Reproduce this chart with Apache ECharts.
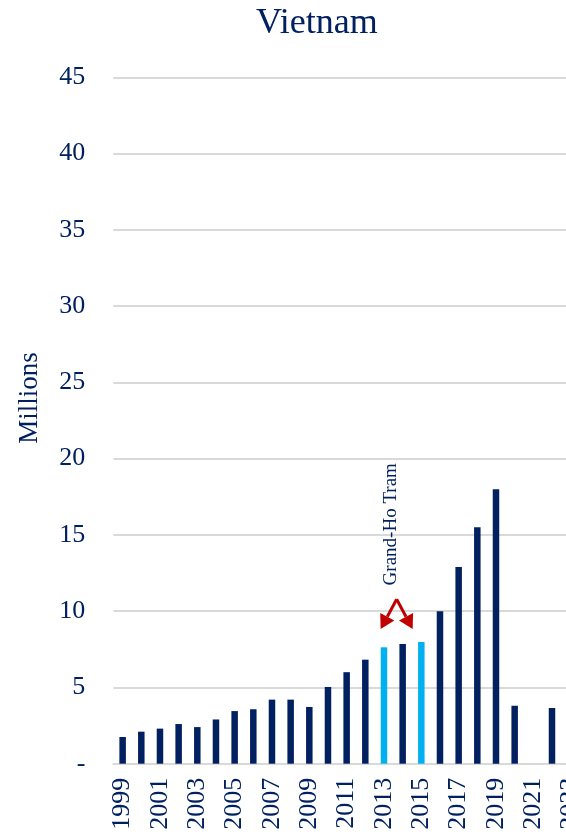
<!DOCTYPE html>
<html>
<head>
<meta charset="utf-8">
<script src="https://cdn.jsdelivr.net/npm/echarts@6/dist/echarts.min.js"></script>
<style>
  html, body { margin: 0; padding: 0; background: #fff; overflow: hidden; }
  #chart { width: 566px; height: 838px; }
</style>
</head>
<body>
<div id="chart"></div>
<script>
// International visitor arrivals, millions
const years = ['1999','2000','2001','2002','2003','2004','2005','2006','2007','2008','2009','2010',
               '2011','2012','2013','2014','2015','2016','2017','2018','2019','2020','2021','2022','2023'];
const arrivals = [1.75, 2.1, 2.3, 2.6, 2.4, 2.9, 3.45, 3.57, 4.2, 4.2, 3.72, 5.03,
                  6.0, 6.82, 7.63, 7.85, 7.98, 10.0, 12.9, 15.5, 18.0, 3.8, null, 3.65, null];
// Years marked around the Grand-Ho Tram opening
const highlightYears = ['2013', '2015'];
const yTicks = { min: 0, max: 45, interval: 5 };
const annotationText = 'Grand-Ho Tram';
const annotationYear = '2014';

const NAVY = '#002060';
const SKY = '#00B0F0';
const RED = '#C00000';
const FONT = 'Liberation Serif';

const chart = echarts.init(document.getElementById('chart'), null, { renderer: 'canvas' });

const barData = arrivals.map((v, i) => ({
  value: v,
  itemStyle: { color: highlightYears.includes(years[i]) ? SKY : NAVY }
}));

chart.setOption({
  animation: false,
  backgroundColor: '#fff',
  title: {
    text: 'Vietnam',
    left: 251,
    top: 1,
    textStyle: { fontFamily: FONT, fontSize: 36, fontWeight: 'normal', color: NAVY }
  },
  // plot area runs past the right edge so the last year is cut off
  grid: {
    left: 113.3, top: 77.3, width: 466.7, height: 686.4,
    containLabel: false,
    outerBoundsMode: 'none'
  },
  xAxis: {
    type: 'category',
    data: years,
    boundaryGap: true,
    axisLine: { show: true, lineStyle: { color: '#D9D9D9', width: 2 } },
    axisTick: { show: false },
    axisLabel: {
      interval: 1,
      rotate: 90,
      margin: 14,
      color: NAVY,
      fontFamily: FONT,
      fontSize: 26
    }
  },
  yAxis: {
    type: 'value',
    min: yTicks.min,
    max: yTicks.max,
    interval: yTicks.interval,
    axisLine: { show: false },
    axisTick: { show: false },
    splitLine: { lineStyle: { color: '#D9D9D9', width: 2 } },
    axisLabel: {
      margin: 28,
      color: NAVY,
      fontFamily: FONT,
      fontSize: 26,
      formatter: v => (v === 0 ? '-' : String(v))
    }
  },
  series: [{
    type: 'bar',
    data: barData,
    barWidth: 6.5
  }]
});

// Side label and the annotation with its two arrows
const ref = chart.convertToPixel({ xAxisIndex: 0, yAxisIndex: 0 }, [annotationYear, 10.78]);
const tipY = chart.convertToPixel({ yAxisIndex: 0 }, 8.83);
const apexX = ref[0] - 6;
const apexY = ref[1];

function arrow(x1, y1, x2, y2) {
  const ang = Math.atan2(y2 - y1, x2 - x1);
  const head = 14, halfW = 8;
  const bx = x2 - head * Math.cos(ang), by = y2 - head * Math.sin(ang);
  const nx = -Math.sin(ang), ny = Math.cos(ang);
  return [
    { type: 'line', shape: { x1, y1, x2: bx, y2: by },
      style: { stroke: RED, lineWidth: 3 } },
    { type: 'polygon',
      shape: { points: [[x2, y2], [bx + nx * halfW, by + ny * halfW], [bx - nx * halfW, by - ny * halfW]] },
      style: { fill: RED } }
  ];
}

const graphics = [
  {
    type: 'text',
    x: 30, y: 398,
    rotation: Math.PI / 2,
    style: { text: 'Millions', fontFamily: FONT, fontSize: 27, fill: NAVY, align: 'center', verticalAlign: 'middle' }
  },
  {
    type: 'text',
    x: apexX - 6, y: apexY - 75,
    rotation: Math.PI / 2,
    style: { text: annotationText, fontFamily: FONT, fontSize: 19, fill: NAVY, align: 'center', verticalAlign: 'middle' }
  }
].concat(arrow(apexX, apexY, apexX - 16, tipY), arrow(apexX, apexY, apexX + 16, tipY));

chart.setOption({ graphic: graphics });
</script>
</body>
</html>
